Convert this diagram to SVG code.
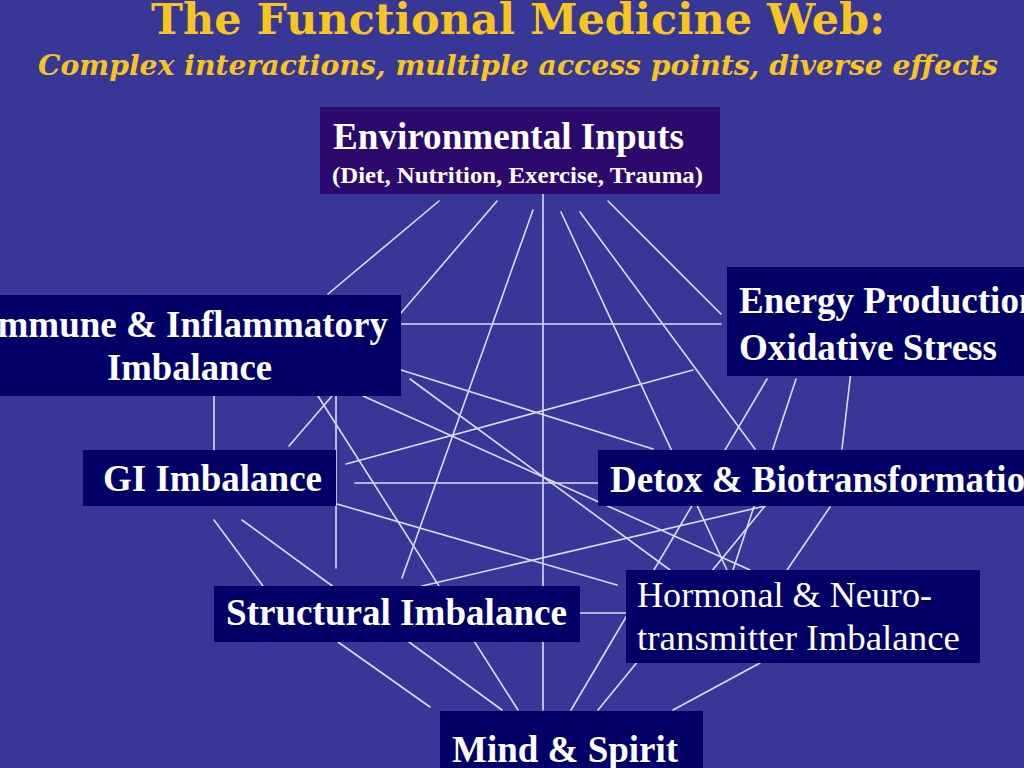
<svg xmlns="http://www.w3.org/2000/svg" width="1024" height="768" viewBox="0 0 1024 768">
<style>
.bg{fill:#373798}
.box{fill:#000066}
.env{fill:#2a0a6c}
.lk{stroke:#dcdcf6;stroke-width:1.6;fill:none;stroke-linecap:round}
.t{font-family:"Liberation Serif","Times New Roman",serif;font-weight:bold;fill:#ffffff}
.tr{font-family:"Liberation Serif","Times New Roman",serif;font-weight:normal;fill:#ffffff}
.ttl{font-family:"DejaVu Serif","Liberation Serif",serif;font-weight:bold;fill:#f7c51e}
</style>
<rect class="bg" x="0" y="0" width="1024" height="768"/>
<text class="ttl" x="518" y="34" font-size="42" text-anchor="middle" textLength="734" lengthAdjust="spacingAndGlyphs">The Functional Medicine Web:</text>
<text class="ttl" x="518" y="75" font-size="28" font-style="italic" text-anchor="middle" textLength="960" lengthAdjust="spacingAndGlyphs">Complex interactions, multiple access points, diverse effects</text>
<g id="connectors">
<line class="lk" x1="439" y1="201" x2="328" y2="294"/>
<line class="lk" x1="497" y1="201" x2="401" y2="313"/>
<line class="lk" x1="533" y1="210" x2="402" y2="578"/>
<line class="lk" x1="543" y1="193" x2="543" y2="710"/>
<line class="lk" x1="561" y1="212" x2="727" y2="570"/>
<line class="lk" x1="580" y1="212" x2="755" y2="449"/>
<line class="lk" x1="608" y1="201" x2="721" y2="314"/>
<line class="lk" x1="401" y1="324" x2="721" y2="324"/>
<line class="lk" x1="214" y1="396" x2="214" y2="450"/>
<line class="lk" x1="336" y1="396" x2="336" y2="568"/>
<line class="lk" x1="332" y1="396" x2="289" y2="446"/>
<line class="lk" x1="318" y1="396" x2="518" y2="710"/>
<line class="lk" x1="401" y1="370" x2="653" y2="449"/>
<line class="lk" x1="410" y1="379" x2="670" y2="570"/>
<line class="lk" x1="363" y1="396" x2="750" y2="570"/>
<line class="lk" x1="346" y1="464" x2="693" y2="370"/>
<line class="lk" x1="355" y1="483" x2="598" y2="483"/>
<line class="lk" x1="337" y1="504" x2="617" y2="585"/>
<line class="lk" x1="422" y1="586" x2="765" y2="506"/>
<line class="lk" x1="580" y1="613" x2="627" y2="613"/>
<line class="lk" x1="767" y1="379" x2="571" y2="710"/>
<line class="lk" x1="796" y1="379" x2="733" y2="570"/>
<line class="lk" x1="765" y1="506" x2="598" y2="710"/>
<line class="lk" x1="830" y1="507" x2="787" y2="570"/>
<line class="lk" x1="760" y1="663" x2="673" y2="710"/>
<line class="lk" x1="851" y1="371" x2="842" y2="449"/>
<line class="lk" x1="338" y1="642" x2="430" y2="707"/>
<line class="lk" x1="214" y1="520" x2="263" y2="586"/>
<line class="lk" x1="242" y1="520" x2="502" y2="710"/>
</g>
<g id="env">
<rect class="env" x="320" y="107" width="400" height="87"/>
<text class="t" x="333" y="149" font-size="37" textLength="351" lengthAdjust="spacingAndGlyphs">Environmental Inputs</text>
<text class="t" x="332" y="183" font-size="24" textLength="371" lengthAdjust="spacingAndGlyphs">(Diet, Nutrition, Exercise, Trauma)</text>
</g>
<g id="immune">
<rect class="box" x="-5" y="295" width="406" height="101"/>
<text class="t" x="388" y="337" font-size="37" text-anchor="end">Immune &amp; Inflammatory</text>
<text class="t" x="189.5" y="380" font-size="37" text-anchor="middle" textLength="165" lengthAdjust="spacingAndGlyphs">Imbalance</text>
</g>
<g id="energy">
<rect class="box" x="727" y="267" width="310" height="109"/>
<text class="t" x="739" y="313" font-size="37">Energy Production</text>
<text class="t" x="739" y="360" font-size="37" textLength="258" lengthAdjust="spacingAndGlyphs">Oxidative Stress</text>
</g>
<g id="gi">
<rect class="box" x="83" y="450" width="253" height="56"/>
<text class="t" x="103" y="491" font-size="37" textLength="219" lengthAdjust="spacingAndGlyphs">GI Imbalance</text>
</g>
<g id="detox">
<rect class="box" x="598" y="450" width="440" height="56"/>
<text class="t" x="610" y="492" font-size="37">Detox &amp; Biotransformation</text>
</g>
<g id="structural">
<rect class="box" x="214" y="586" width="366" height="56"/>
<text class="t" x="226" y="625" font-size="37" textLength="341" lengthAdjust="spacingAndGlyphs">Structural Imbalance</text>
</g>
<g id="hormonal">
<rect class="box" x="626" y="570" width="354" height="93"/>
<text class="tr" x="637" y="607" font-size="36" textLength="295" lengthAdjust="spacingAndGlyphs">Hormonal &amp; Neuro-</text>
<text class="tr" x="637" y="650" font-size="36" textLength="323" lengthAdjust="spacingAndGlyphs">transmitter Imbalance</text>
</g>
<g id="mind">
<rect class="box" x="440" y="711" width="263" height="70"/>
<text class="t" x="452" y="762" font-size="37">Mind &amp; Spirit</text>
</g>
</svg>
